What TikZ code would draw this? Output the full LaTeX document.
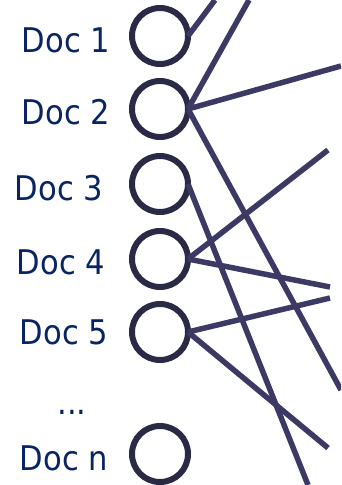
\documentclass[tikz,border=0pt]{standalone}
\usepackage{fontspec}
\setmainfont{DejaVu Sans Condensed}
\usepackage{xcolor}
\usepackage{tikz}
\usetikzlibrary{positioning}

\definecolor{docblue}{RGB}{8,36,100}
\definecolor{ringgray}{RGB}{42,41,70}
\definecolor{linkgray}{RGB}{60,58,100}

\begin{document}
\begin{tikzpicture}[
					x=1pt, y=-1pt,
					docnode/.style={
						circle, draw=ringgray, line width=6pt,
						minimum size=56pt, inner sep=0pt, outer sep=0pt
					},
					doclabel/.style={
						text=docblue, font=\fontsize{34}{36}\selectfont
					},
					link/.style={draw=linkgray, line width=5.5pt}
					]
					
					\useasboundingbox (0,0) rectangle (341,485);
					\clip (0,0) rectangle (341,485);
					
					% --- Dokumente (links) ---
					\node[docnode] (d1) at (160,36) {};
					\node[docnode] (d2) at (160,109) {};
					\node[docnode] (d3) at (160,184) {};
					\node[docnode] (d4) at (160,259) {};
					\node[docnode] (d5) at (160,332) {};
					\node[docnode] (dn) at (160,454) {};
					
					\node[doclabel] (l1) at (66,40) {Doc 1};
					\node[doclabel] (l2) at (66,112) {Doc 2};
					\node[doclabel] (l3) at (59,188) {Doc 3};
					\node[doclabel] (l4) at (61,262) {Doc 4};
					\node[doclabel] (l5) at (64,332) {Doc 5};
					\node[doclabel] (ldots) at (72,412) {...};
					\node[doclabel] (ln) at (64,458) {Doc n};
					
					% --- freie Enden der Kanten (rechts) ---
					\coordinate (t1) at (215,0);
					\coordinate (t2) at (249,0);
					\coordinate (r1) at (341,66);
					\coordinate (r2) at (328,150);
					\coordinate (r3) at (330,287);
					\coordinate (r4) at (330,298);
					\coordinate (r5) at (341,390);
					\coordinate (r6) at (328,448);
					\coordinate (b1) at (308,485);
					
					% --- Kanten ---
					\draw[link] (d1.east) -- (t1);
					\draw[link] (d2.east) -- (t2);
					\draw[link] (d2.east) -- (r1);
					\draw[link] (d2.east) -- (r5);
					\draw[link] (d3.east) -- (b1);
					\draw[link] (d4.east) -- (r2);
					\draw[link] (d4.east) -- (r3);
					\draw[link] (d5.east) -- (r4);
					\draw[link] (d5.east) -- (r6);
					
				\end{tikzpicture}
\end{document}
